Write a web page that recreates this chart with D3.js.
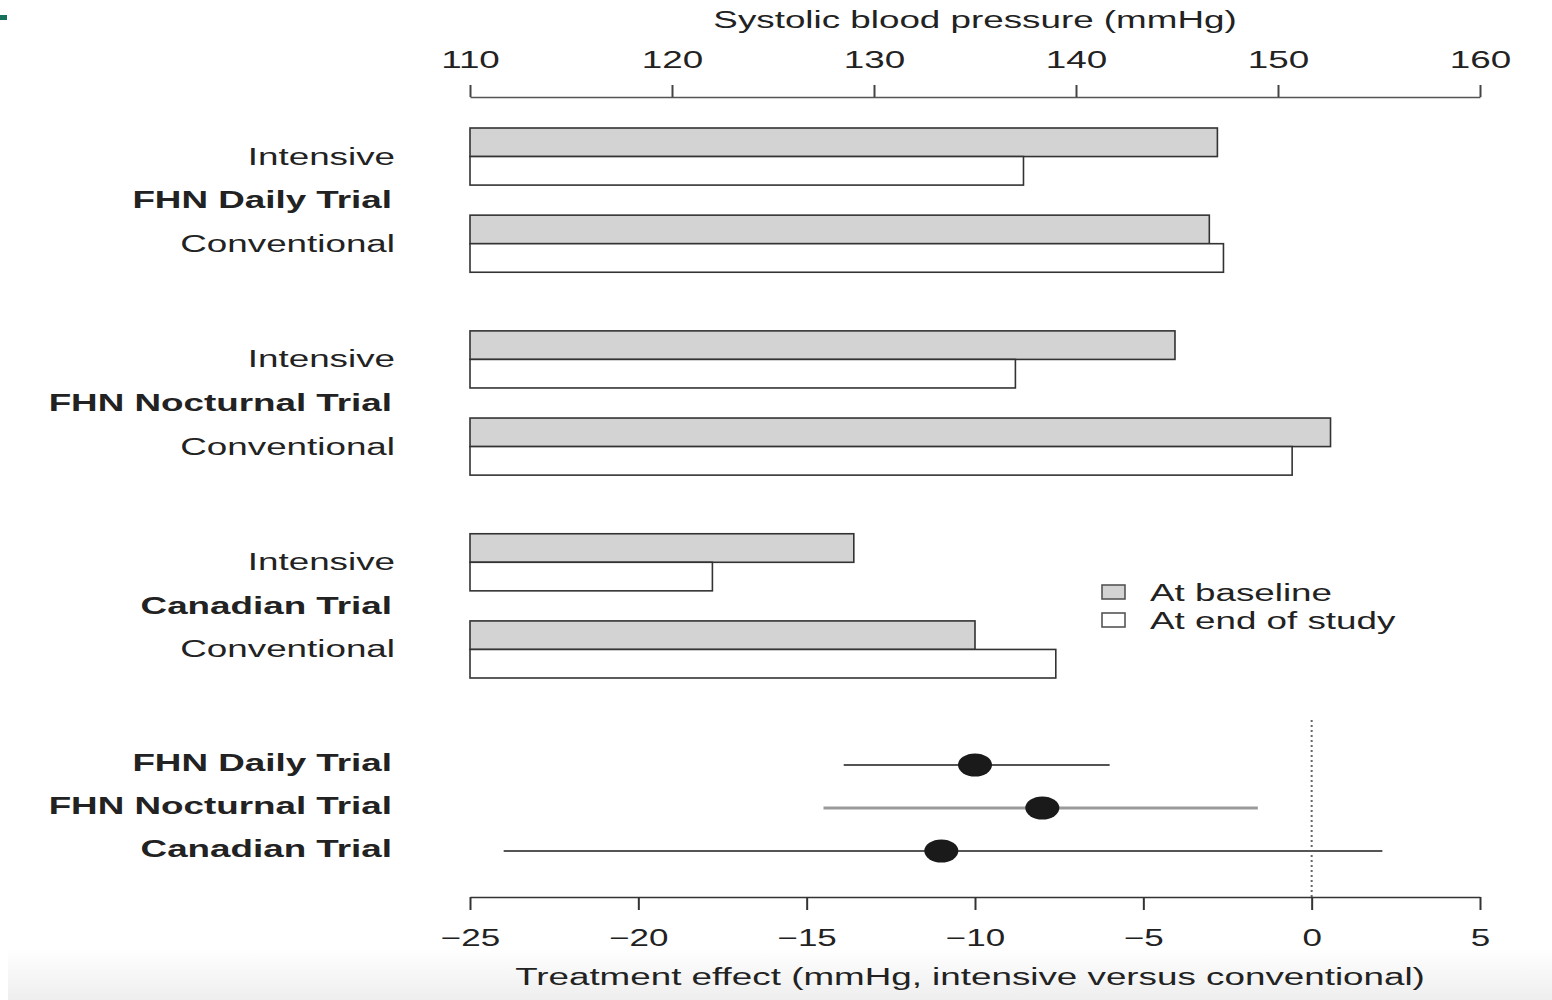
<!DOCTYPE html>
<html>
<head>
<meta charset="utf-8">
<script src="https://cdn.jsdelivr.net/npm/d3@7"></script>
<style>
  body { margin: 0; background: #fff; }
  svg { display: block; font-family: "Liberation Sans", Arial, sans-serif; }
</style>
</head>
<body>
<div id="chart"></div>
<script>
const trials = ['FHN Daily Trial', 'FHN Nocturnal Trial', 'Canadian Trial']
const arms = ['Intensive', 'Conventional']
// systolic BP, [intensive, conventional] per trial
const baseline = [[147.0, 146.6], [144.9, 152.6], [129.0, 135.0]]
const endOfStudy = [[137.4, 147.3], [137.0, 150.7], [122.0, 139.0]]
const bpTicks = [110, 120, 130, 140, 150, 160]
// treatment effect, intensive vs conventional
const effect = [-10.0, -8.0, -11.0]
const effectLow = [-13.9, -14.5, -24.0]
const effectHigh = [-6.0, -1.6, 2.1]
const effectTicks = [-25, -20, -15, -10, -5, 0, 5]
const legendLabels = ['At baseline', 'At end of study']

const width = 1552
const height = 1000
const stretch = 1.6   // the figure is wide, type is stretched sideways
const fontSize = 23
const ink = '#222'

const svg = d3.select('#chart')
  .append('svg')
  .attr('width', width)
  .attr('height', height)

// faint grey strip at the foot of the page
const grad = svg.append('defs').append('linearGradient')
  .attr('id', 'foot').attr('x1', 0).attr('x2', 0).attr('y1', 0).attr('y2', 1)
grad.append('stop').attr('offset', 0).attr('stop-color', '#ffffff')
grad.append('stop').attr('offset', 1).attr('stop-color', '#eeeeee')
svg.append('rect')
  .attr('x', 8).attr('y', 948).attr('width', width - 8).attr('height', 52)
  .attr('fill', 'url(#foot)')

svg.append('rect')
  .attr('x', 0).attr('y', 15).attr('width', 7).attr('height', 5)
  .attr('fill', '#17705c')

const label = (sel, x, y, txt, anchor, bold) => sel.append('text')
  .attr('transform', `translate(${x},${y}) scale(${stretch},1)`)
  .attr('text-anchor', anchor)
  .attr('font-size', fontSize)
  .attr('font-weight', bold ? 'bold' : 'normal')
  .attr('fill', ink)
  .text(txt)

const xBp = d3.scaleLinear().domain([110, 160]).range([470, 1480])
const xEff = d3.scaleLinear().domain([-25, 5]).range([470, 1480])

const yGroup = d3.scaleBand().domain(trials).range([128, 678]).paddingInner(0.289)
const yArm = d3.scaleBand().domain(arms).range([0, yGroup.bandwidth()]).paddingInner(0.345)
const barH = yArm.bandwidth() / 2

// top axis
const topAxis = svg.append('g')
  .attr('transform', 'translate(0,97)')
  .call(d3.axisTop(xBp).tickValues(bpTicks).tickSize(12).tickSizeOuter(0).tickPadding(17))
topAxis.select('.domain').attr('stroke', '#555').attr('stroke-width', 1.6)
topAxis.selectAll('.tick line').attr('stroke', '#444').attr('stroke-width', 2)
topAxis.selectAll('.tick text')
  .attr('font-size', fontSize).attr('font-family', null).attr('fill', ink)
  .attr('transform', `scale(${stretch},1)`)
label(svg, xBp(135), 28, 'Systolic blood pressure (mmHg)', 'middle', false)

// bars
trials.forEach((trial, g) => {
  const g0 = yGroup(trial)
  arms.forEach((arm, a) => {
    const y0 = g0 + yArm(arm)
    svg.append('rect')
      .attr('x', xBp(110)).attr('y', y0)
      .attr('width', xBp(baseline[g][a]) - xBp(110)).attr('height', barH)
      .attr('fill', '#d3d3d3').attr('stroke', '#333').attr('stroke-width', 1.6)
    svg.append('rect')
      .attr('x', xBp(110)).attr('y', y0 + barH)
      .attr('width', xBp(endOfStudy[g][a]) - xBp(110)).attr('height', barH)
      .attr('fill', '#fff').attr('stroke', '#333').attr('stroke-width', 1.6)
    label(svg, 395, y0 + yArm.bandwidth() / 2 + 8, arm, 'end', false)
  })
  label(svg, 392, g0 + yGroup.bandwidth() / 2 + 8, trial, 'end', true)
})

// legend
const legend = svg.append('g').attr('transform', 'translate(1102,585)')
legendLabels.forEach((txt, i) => {
  legend.append('rect')
    .attr('x', 0).attr('y', i * 28).attr('width', 23).attr('height', 14)
    .attr('fill', i === 0 ? '#d3d3d3' : '#fff')
    .attr('stroke', '#555').attr('stroke-width', 1.6)
  label(legend, 48, i * 28 + 16, txt, 'start', false)
})

// forest plot
const yEff = d3.scalePoint().domain(trials).range([765, 851])
const lineColour = ['#1a1a1a', '#9a9a9a', '#555']
const lineWidth = [1.6, 3, 2]

svg.append('line')
  .attr('x1', xEff(0)).attr('x2', xEff(0))
  .attr('y1', 720).attr('y2', 897)
  .attr('stroke', '#666').attr('stroke-width', 2).attr('stroke-dasharray', '2,3')

trials.forEach((trial, i) => {
  const y = yEff(trial)
  svg.append('line')
    .attr('x1', xEff(effectLow[i])).attr('x2', xEff(effectHigh[i]))
    .attr('y1', y).attr('y2', y)
    .attr('stroke', lineColour[i]).attr('stroke-width', lineWidth[i])
  svg.append('ellipse')
    .attr('cx', xEff(effect[i])).attr('cy', y)
    .attr('rx', 17).attr('ry', 11.5)
    .attr('fill', '#1a1a1a')
  label(svg, 392, y + 6, trial, 'end', true)
})

const botAxis = svg.append('g')
  .attr('transform', 'translate(0,897)')
  .call(d3.axisBottom(xEff).tickValues(effectTicks).tickSize(13).tickSizeOuter(0).tickPadding(20))
botAxis.select('.domain').attr('stroke', '#333').attr('stroke-width', 1.6)
botAxis.selectAll('.tick line').attr('stroke', '#333').attr('stroke-width', 2)
botAxis.selectAll('.tick text')
  .attr('font-size', fontSize).attr('font-family', null).attr('fill', ink)
  .attr('transform', `scale(${stretch * 0.95},1)`)
label(svg, xEff(-10) - 5, 985, 'Treatment effect (mmHg, intensive versus conventional)', 'middle', false)
</script>
</body>
</html>
